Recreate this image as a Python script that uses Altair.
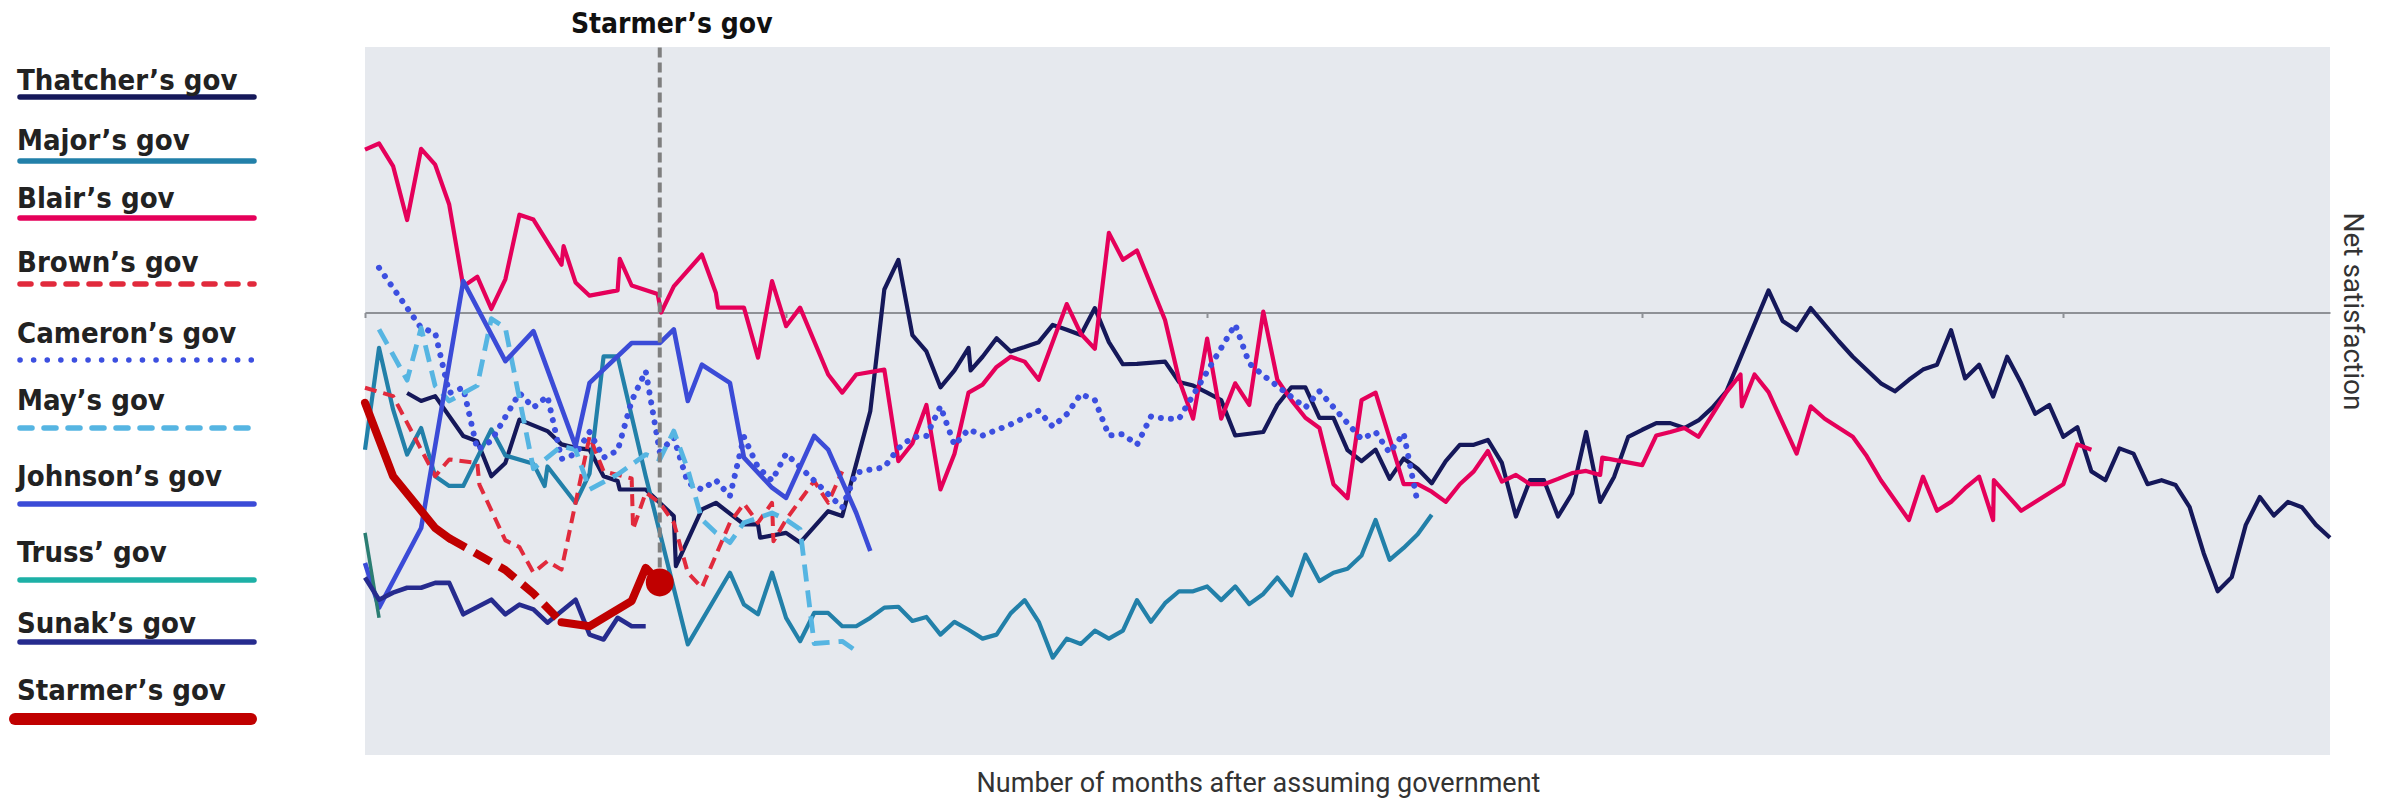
import altair as alt
import pandas as pd

# ---------------- data ----------------
NAMES = ["Thatcher’s gov", "Major’s gov", "Blair’s gov", "Brown’s gov", "Cameron’s gov",
         "May’s gov", "Johnson’s gov", "Truss’ gov", "Sunak’s gov", "Starmer’s gov"]
COLORS = ["#15185a", "#2280a9", "#e5005a", "#e12a3c", "#3c4fe0",
          "#56b5e2", "#3b4bd7", "#1db0a6", "#262b8e", "#c00000"]

TICK_MONTHS = [0, 30, 60, 91, 121]

thatcher_m = [3, 4, 5, 7, 8, 9, 10, 11, 13, 14, 15, 16, 17, 18, 18.15, 20, 22, 22.15, 24, 25,
              27, 28, 28.15, 30, 31, 33, 34, 36, 37, 38, 39, 40, 41, 42, 43, 43.15, 44, 45, 46, 47,
              48, 49, 50, 51, 52, 53, 54, 55, 57, 58, 59, 60, 61, 62, 64, 65, 66, 67, 68, 69,
              70, 71, 72, 73, 74, 75, 76, 77, 78, 79, 80, 81, 82, 83, 84, 85, 86, 87, 88, 89,
              90, 91, 92, 93, 94, 95, 96, 97, 100, 101, 102, 103, 105, 106, 108, 109,
              110, 111, 112, 113, 114, 115, 116, 117, 118, 119, 120, 121, 122, 123, 124, 125,
              126, 127, 128, 129, 130, 131, 132, 133, 134, 135, 136, 137, 138, 139, 140]
thatcher_v = [-18.2, -20.0, -18.9, -27.9, -29.1, -37.0, -34.0, -24.2, -26.8, -29.8, -30.6, -31.0, -37.0, -38.1, -40.0, -40.0, -46.0, -57.3, -44.5, -43.0,
              -47.9, -47.9, -50.9, -49.8, -52.0, -44.9, -46.0, -22.3, 5.2, 11.9, -5.1, -8.8, -16.9, -13.1, -8.0, -13.1, -10.0, -5.8, -8.8, -7.8,
              -6.7, -2.8, -3.9, -5.1, 1.0, -6.7, -11.7, -11.6, -11.1, -15.7, -16.5, -18.1, -19.8, -27.8, -27.0, -20.9, -16.9, -16.9, -23.8, -23.8,
              -31.1, -33.6, -31.0, -37.6, -33.0, -35.3, -38.6, -33.6, -29.9, -29.9, -28.8, -34.0, -46.1, -37.9, -37.9, -46.1, -40.9, -27.0, -42.8, -37.1,
              -28.1, -26.5, -25.0, -25.0, -26.1, -24.4, -21.5, -17.8, 5.0, -1.9, -4.0, 1.0, -6.5, -10.0, -16.0, -17.8,
              -15.2, -12.9, -11.8, -4.0, -14.9, -11.8, -19.0, -10.0, -16.0, -22.9, -20.9, -28.1, -25.9, -35.9, -37.9, -30.7,
              -31.9, -38.8, -37.9, -39.0, -44.0, -54.4, -63.0, -59.8, -48.0, -41.7, -45.9, -42.8, -44.0, -48.0, -50.9]

major_m = [0, 1, 2, 3, 4, 5, 6, 7, 9, 10, 12, 12.8, 13, 15, 16, 17, 18, 20, 23, 26,
           27, 28, 29, 30, 31, 32, 33, 34, 35, 36, 37, 38, 39, 40, 41, 42, 43, 44, 45, 46,
           47, 48, 49, 50, 51, 52, 53, 54, 55, 56, 57, 58, 59, 60, 61, 62, 63, 64, 65, 66,
           67, 68, 69, 70, 71, 72, 73, 74, 75, 76]
major_v = [-31.0, -8.0, -21.9, -32.1, -26.1, -37.0, -39.2, -39.2, -26.4, -32.3, -34.2, -39.2, -34.8, -43.0, -36.4, -9.9, -9.9, -37.0, -75.0, -58.8,
           -66.0, -68.2, -58.8, -69.0, -74.3, -67.9, -67.9, -70.9, -70.9, -69.0, -66.7, -66.5, -69.7, -68.8, -72.8, -69.9, -71.7, -73.7, -72.8, -68.0,
           -65.0, -69.9, -78.0, -73.7, -74.9, -71.9, -73.7, -71.9, -65.0, -69.9, -65.7, -63.0, -63.0, -61.9, -65.0, -61.9, -65.9, -63.6, -59.9, -63.9,
           -54.7, -60.7, -58.8, -57.9, -54.9, -46.9, -55.9, -53.2, -50.1, -45.7]

blair_m = [0, 1, 2, 3, 4, 5, 6, 7, 8, 9, 10, 11, 12, 14, 14.15, 15, 16, 18, 18.15, 19,
           20.85, 21.1, 22, 24, 25, 25.15, 27, 28, 29, 30, 31, 33, 34, 35, 37, 38, 39, 40, 41, 42,
           43, 44, 45, 46, 47, 48, 50, 51, 52, 53, 54, 55, 57, 58, 59, 60, 61, 62, 63, 64,
           65, 66, 67, 68, 69, 70, 71, 72, 73, 74, 75, 76, 77, 78, 79, 80, 81, 82, 83, 84,
           85, 86, 87, 88, 88.15, 91, 92, 93, 94, 95, 97, 98, 98.1, 99, 100, 102, 103, 104, 106, 107,
           108, 110, 111, 112, 113, 114, 115, 116, 116.05, 118, 121, 122, 123]
blair_v = [36.8, 38.2, 33.1, 20.9, 37.0, 33.4, 24.4, 5.9, 8.1, 0.8, 7.5, 22.1, 21.0, 10.8, 15.0, 6.8, 3.8, 5.0, 12.1, 6.1,
           4.2, 0.0, 5.9, 13.1, 4.4, 1.1, 1.1, -10.2, 7.1, -3.1, 1.1, -14.0, -18.1, -14.0, -12.9, -33.6, -29.6, -20.9, -40.0, -31.9,
           -18.1, -16.3, -12.3, -10.0, -11.1, -15.2, 1.9, -4.8, -8.2, 18.0, 11.9, 14.0, -1.7, -15.2, -24.0, -5.9, -24.0, -16.0, -20.9, 0.2,
           -15.2, -19.8, -23.8, -26.1, -38.8, -42.0, -19.8, -18.1, -28.4, -38.8, -38.8, -40.5, -42.8, -38.8, -35.9, -31.3, -38.2, -36.7, -38.8, -38.8,
           -37.6, -36.3, -35.8, -36.7, -32.8, -34.5, -27.8, -27.0, -26.1, -28.1, -18.0, -14.0, -21.2, -14.0, -18.0, -31.9, -21.2, -24.0, -28.1, -32.5,
           -37.9, -46.9, -37.1, -44.8, -42.8, -39.7, -37.1, -46.9, -37.9, -44.8, -38.8, -29.8, -31.0]

brown_m = [0, 2, 5, 6, 8, 8.15, 10, 11, 12, 13, 14, 16, 17, 19, 19.1, 20, 21, 22, 23, 24,
           26, 27, 28, 29, 29.1, 30, 32, 33, 34]
brown_v = [-17.0, -18.9, -37.0, -33.2, -34.0, -38.9, -51.5, -53.0, -58.8, -56.2, -58.1, -28.0, -35.9, -37.5, -49.0, -40.7, -43.0, -47.5, -58.8, -62.2,
           -47.5, -43.2, -47.5, -43.0, -51.7, -46.8, -38.1, -43.0, -35.9]

cameron_m = [1, 4, 5, 6, 7, 8, 9, 11, 12, 13, 14, 15, 16, 17, 18, 19, 20, 21, 22, 23,
             24, 25, 26, 27, 28, 29, 30, 34, 35, 36, 37, 38, 39, 40, 41, 42, 43, 44, 46, 48,
             49, 50, 51, 52, 53, 54, 55, 56, 57, 58, 62, 63, 64, 67, 68, 71, 72, 73, 74, 75]
cameron_v = [10.1, -3.5, -4.6, -18.2, -17.0, -31.0, -29.0, -18.2, -21.5, -18.9, -33.1, -32.0, -27.0, -32.8, -31.2, -20.0, -13.2, -31.5, -28.3, -38.5,
             -40.0, -37.9, -41.5, -28.1, -35.0, -38.0, -31.9, -44.1, -36.2, -35.5, -35.0, -30.7, -28.2, -27.9, -21.2, -30.0, -26.4, -27.8, -25.3, -22.2,
             -25.8, -23.0, -18.4, -19.8, -27.8, -27.5, -29.9, -23.5, -24.0, -24.0, -2.7, -11.5, -14.2, -21.5, -17.8, -28.6, -27.0, -31.7, -27.3, -43.1]

may_m = [1, 3, 4, 5, 6, 8, 9, 10, 12, 14, 15, 16, 18, 20, 21, 22, 23, 24, 25, 26,
         27, 29, 30, 31, 32, 34, 35]
may_v = [-3.8, -15.3, -3.5, -16.6, -20.0, -16.5, -1.4, -3.5, -35.3, -30.2, -31.0, -40.0, -36.6, -32.1, -33.2, -26.8, -35.5, -46.8, -49.8, -52.0,
         -47.5, -45.3, -46.8, -49.0, -74.8, -74.3, -76.5]

johnson_m = [0, 1, 4, 7, 10, 12, 15, 16, 19, 21, 22, 23, 24, 26, 27, 29, 30, 32, 33, 35, 36]
johnson_v = [-56.6, -66.7, -48.7, 7.1, -11.0, -4.2, -30.2, -15.9, -6.9, -6.9, -3.8, -20.0, -11.8, -15.9, -32.8, -39.6, -41.9, -27.9, -31.0, -45.3, -53.9]

truss_m = [0, 1]
truss_v = [-49.8, -69.0]

sunak_m = [0, 1, 2, 3, 4, 5, 6, 7, 9, 10, 11, 12, 13, 15, 16, 17, 18, 19, 20]
sunak_v = [-59.9, -64.9, -63.3, -62.2, -62.2, -61.1, -61.1, -68.2, -64.9, -68.2, -66.0, -67.1, -70.1, -64.9, -72.8, -73.9, -69.0, -70.9, -70.9]

# Starmer: polled months (solid) and the months bridged by a dashed line
starmer_a_m = [0, 2, 5, 6]
starmer_a_v = [-20.4, -37.0, -48.7, -51.0]
starmer_gap_m = [6, 10, 12, 14]
starmer_gap_v = [-51.0, -58.2, -63.5, -70.0]
starmer_b_m = [14, 16, 19, 20, 21]
starmer_b_v = [-70.0, -70.9, -65.2, -57.7, -61.0]

# ---------------- styling ----------------
W, H = 1965, 708
LEGEND_LINE_Y = [50, 114, 171, 237, 313, 381, 457, 533, 595, 672]
LEGEND_TEXT_Y = [43, 103, 161, 225, 296, 363, 439, 515, 586, 653]
LEGEND_DASH = [[1, 0], [1, 0], [1, 0], [11, 12], [0.1, 13.5], [12, 12], [1, 0], [1, 0], [1, 0], [1, 0]]
BOLD_FONT = "Liberation Sans Narrow, DejaVu Sans Condensed, Roboto, sans-serif"
AXIS_FONT = "Roboto, Inter, sans-serif"


def frame(name, months, values):
    return pd.DataFrame({"series": name, "month": months, "value": values})


x_axis = alt.Axis(values=TICK_MONTHS, labels=False, grid=False,
                  domain=True, domainColor="#8e9196", domainWidth=2,
                  ticks=True, tickColor="#8e9196", tickWidth=2, tickSize=5,
                  offset=-(H - H * 60 / 160),
                  title="Number of months after assuming government",
                  titleFont=AXIS_FONT, titleFontSize=27, titleFontWeight="normal",
                  titleColor="#333333", titleX=893, titleY=479, titleAlign="center",
                  titleBaseline="alphabetic")
y_axis = alt.Axis(orient="right", labels=False, ticks=False, domain=False, grid=False,
                  title="Net satisfaction", titleFont=AXIS_FONT, titleFontSize=28,
                  titleFontWeight="normal", titleColor="#333333", titleAngle=90,
                  titleX=13, titleY=264, titleAlign="center", titleBaseline="alphabetic")

X = alt.X("month:Q", scale=alt.Scale(domain=[0, 140], nice=False, zero=False), axis=x_axis)
Y = alt.Y("value:Q", scale=alt.Scale(domain=[-100, 60], nice=False, zero=False), axis=y_axis)
C = alt.Color("series:N", scale=alt.Scale(domain=NAMES, range=COLORS), legend=None)


def line(df, width=4.2, **kw):
    return alt.Chart(df).mark_line(strokeWidth=width, clip=False, strokeJoin="round", **kw).encode(
        x=X, y=Y, color=C)


layers = [
    line(frame(NAMES[0], thatcher_m, thatcher_v)),
    line(frame(NAMES[1], major_m, major_v)),
    line(frame(NAMES[2], blair_m, blair_v)),
    line(frame(NAMES[3], brown_m, brown_v), width=4, strokeDash=[12, 7]),
    line(frame(NAMES[4], cameron_m, cameron_v), width=6, strokeDash=[0.1, 10], strokeCap="round"),
    line(frame(NAMES[5], may_m, may_v), width=4.8, strokeDash=[17, 9]),
    line(frame(NAMES[6], johnson_m, johnson_v), width=4.6),
    alt.Chart(frame(NAMES[7], truss_m, truss_v)).mark_line(strokeWidth=3.5, color="#2b7d72").encode(x=X, y=Y),
    line(frame(NAMES[8], sunak_m, sunak_v), width=4.6),
]

starmer_now = pd.DataFrame({"series": NAMES[9], "month": [starmer_b_m[-1]],
                            "value": [starmer_b_v[-1]], "label": [NAMES[9]]})

layers += [
    alt.Chart(starmer_now).mark_rule(color="#7f7f7f", strokeWidth=4, strokeDash=[10, 5]).encode(
        x=X, y=Y, y2=alt.datum(60)),
    line(frame(NAMES[9], starmer_gap_m, starmer_gap_v), width=8, strokeDash=[19, 10]),
    line(frame(NAMES[9], starmer_a_m, starmer_a_v), width=8, strokeCap="round"),
    line(frame(NAMES[9], starmer_b_m, starmer_b_v), width=8, strokeCap="round"),
    alt.Chart(starmer_now).mark_circle(size=780, opacity=1, color="#c00000").encode(x=X, y=Y),
    alt.Chart(starmer_now).mark_text(font=BOLD_FONT, fontSize=28, fontWeight="bold", color="#111111",
                                     align="center", baseline="alphabetic", dx=12).encode(
        x=X, y=alt.value(-14), text="label:N"),
]

main = alt.layer(*layers)

legend_df = pd.DataFrame({"series": NAMES, "idx": list(range(len(NAMES)))})
LEG_Y = alt.Y("idx:Q", scale=alt.Scale(domain=list(range(len(NAMES))), range=LEGEND_LINE_Y,
                                       nice=False, zero=False), axis=None)
LEG_DASH = alt.StrokeDash("series:N", scale=alt.Scale(domain=NAMES, range=LEGEND_DASH), legend=None)

leg_lines = alt.Chart(legend_df).transform_filter(alt.datum.series != NAMES[9]).mark_rule(
    strokeCap="round", strokeWidth=5.5).encode(
    x=alt.value(-345), x2=alt.value(-111), y=LEG_Y, color=C, strokeDash=LEG_DASH)
leg_thick = alt.Chart(legend_df).transform_filter(alt.datum.series == NAMES[9]).mark_rule(
    strokeCap="round", strokeWidth=12).encode(
    x=alt.value(-350), x2=alt.value(-114), y=LEG_Y, color=C)
leg_text = alt.Chart(legend_df).mark_text(font=BOLD_FONT, fontSize=29, fontWeight="bold", color="#222222",
                                          align="left", baseline="alphabetic").encode(
    x=alt.value(-348),
    y=alt.Y("idx:Q", scale=alt.Scale(domain=list(range(len(NAMES))), range=LEGEND_TEXT_Y, nice=False, zero=False), axis=None),
    text="series:N",
)

legend_lines = alt.layer(leg_lines, leg_thick)

chart = alt.layer(main, legend_lines, leg_text).resolve_scale(y="independent").properties(
    width=W, height=H,
    padding={"left": 357, "top": 39, "right": 45, "bottom": 46},
    autosize=alt.AutoSizeParams(type="none"),
    background="white",
).configure_view(fill="#e6e9ee", stroke=None)

chart.save("out.html", embed_options={"renderer": "svg", "actions": False})
